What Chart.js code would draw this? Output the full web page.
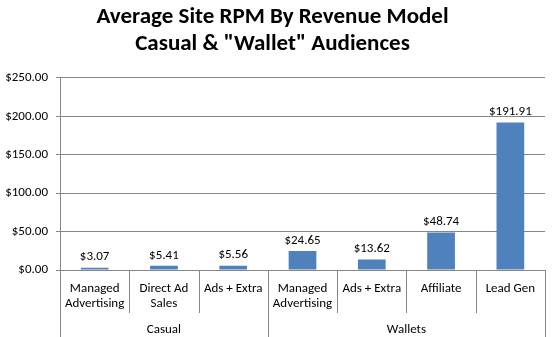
<!DOCTYPE html>
<html>
<head>
<meta charset="utf-8">
<script src="https://cdn.jsdelivr.net/npm/chart.js@4/dist/chart.umd.min.js"></script>
<style>
  html, body { margin: 0; padding: 0; background: #fff; }
  #wrap { width: 554px; height: 337px; }
</style>
</head>
<body>
<div id="wrap"><canvas id="c" width="554" height="337"></canvas></div>
<script>
const categories = [
  ['Managed', 'Advertising'],
  ['Direct Ad', 'Sales'],
  'Ads + Extra',
  ['Managed', 'Advertising'],
  'Ads + Extra',
  'Affiliate',
  'Lead Gen'
];
const rpmValues = [3.07, 5.41, 5.56, 24.65, 13.62, 48.74, 191.91];
const groupNames = ['Casual', 'Wallets'];
const groupSizes = [3, 4];
const yTicks = [0, 50, 100, 150, 200, 250];
const titleLines = ['Average Site RPM By Revenue Model', 'Casual & "Wallet" Audiences'];

const FONT = 'Carlito, Calibri, Lato, "Open Sans", sans-serif';
const GRID = '#868686';

const decorPlugin = {
  id: 'decor',
  afterDatasetsDraw(chart) {
    const ctx = chart.ctx;
    const xs = chart.scales.x;
    const ys = chart.scales.y;
    const base = ys.bottom;
    const H = chart.height;
    ctx.save();
    const meta = chart.getDatasetMeta(0);
    ctx.fillStyle = '#000';
    ctx.font = '13px ' + FONT;
    ctx.textAlign = 'center';
    ctx.textBaseline = 'bottom';
    meta.data.forEach((bar, i) => {
      ctx.fillText('$' + rpmValues[i].toFixed(2), bar.x, bar.y - 4);
    });
    ctx.strokeStyle = GRID;
    ctx.lineWidth = 1;
    const groupBounds = [0];
    let acc = 0;
    groupSizes.forEach(s => { acc += s; groupBounds.push(acc); });
    for (let i = 0; i <= categories.length; i++) {
      const x = Math.round(xs.getPixelForValue(i - 0.5)) + 0.5;
      const isGroup = groupBounds.includes(i);
      ctx.beginPath();
      ctx.moveTo(x, base);
      ctx.lineTo(x, isGroup ? H : base + 43);
      ctx.stroke();
    }
    ctx.fillStyle = '#000';
    ctx.textBaseline = 'middle';
    for (let g = 0; g < groupNames.length; g++) {
      const x1 = xs.getPixelForValue(groupBounds[g] - 0.5);
      const x2 = xs.getPixelForValue(groupBounds[g + 1] - 0.5);
      ctx.fillText(groupNames[g], (x1 + x2) / 2, base + 60);
    }
    ctx.restore();
  }
};

new Chart(document.getElementById('c'), {
  type: 'bar',
  data: {
    labels: categories,
    datasets: [{
      data: rpmValues,
      backgroundColor: '#4F81BD',
      borderWidth: 0,
      barPercentage: 0.4,
      categoryPercentage: 1.0
    }]
  },
  options: {
    responsive: false,
    animation: false,
    devicePixelRatio: 1,
    layout: { padding: { left: 0, right: 9, top: 4, bottom: 0 } },
    plugins: {
      legend: { display: false },
      tooltip: { enabled: false },
      title: {
        display: true,
        text: titleLines,
        color: '#000',
        font: { family: FONT, size: 23, weight: 'bold', lineHeight: 1.17 },
        padding: { top: 0, bottom: 20 }
      }
    },
    scales: {
      x: {
        afterFit(scale) { scale.height = 67; },
        grid: { display: false, drawTicks: false },
        border: { display: true, color: GRID },
        ticks: {
          color: '#000',
          font: { family: FONT, size: 13, lineHeight: 1.15 },
          padding: 11,
          maxRotation: 0,
          autoSkip: false
        }
      },
      y: {
        min: 0,
        max: 250,
        afterFit(scale) { scale.width = 60; },
        afterBuildTicks(scale) { scale.ticks = yTicks.map(v => ({ value: v })); },
        grid: { color: GRID, tickLength: 4, drawTicks: true },
        border: { display: true, color: GRID },
        ticks: {
          color: '#000',
          font: { family: FONT, size: 13 },
          padding: 8,
          callback: v => '$' + Number(v).toFixed(2)
        }
      }
    }
  },
  plugins: [decorPlugin]
});
</script>
</body>
</html>
